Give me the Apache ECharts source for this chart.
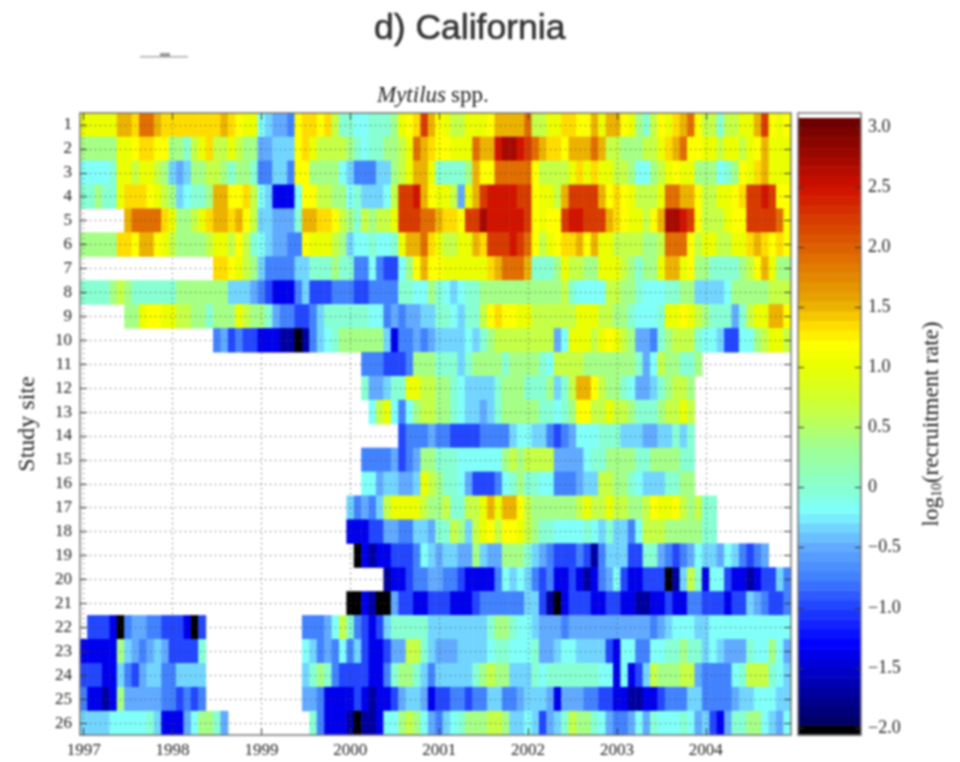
<!DOCTYPE html>
<html><head><meta charset="utf-8">
<style>html,body{margin:0;padding:0;background:#fff}#c{width:960px;height:762px;filter:blur(0.85px)}</style>
<script src="https://cdn.jsdelivr.net/npm/echarts@6/dist/echarts.min.js"></script>
</head><body><div id="c"></div>
<script>
const _ = null;
const yearLabels = ['1997','1998','1999','2000','2001','2002','2003','2004'];
const cbTicks = [-2,-1.5,-1,-.5,0,.5,1,1.5,2,2.5,3];
const site1=[1,1,1,1,1,1.55,1.55,1.35,1.9,1.9,1.55,1.35, 1.35,1.35,1.35,1.35,1.35,1.35,1.35,1.55,1.35,1.2,1,1, -.2,-.35,-.5,-.5,-.75,1.2,1.35,1.35,1.2,1.35,.65,0, 0,-.2,-.2,0,0,0,.35,1,1.2,1.35,2.2,1.55,
 1.2,1,.65,.65,1,1,1,1.2,1.55,1.55,1.55,1.55, 1.9,.65,.65,1,1,1.35,1.35,1.2,1.2,1.55,1,1.55, 1.55,1.2,1,.35,0,.65,1.2,1,1.35,1.55,1.9,1.2, .65,.65,0,.65,.65,1,1,1.55,2.2,1.2,1,1.2];
const site2=[.35,.35,.35,.35,.35,1,1,1.2,1.35,1.35,1.2,1.2, .35,.35,0,.65,1,1.35,.65,.65,1,.65,.35,.35, -.5,-.5,-.35,-.35,-.35,1.2,1.35,1,.65,.65,.65,.65, .35,0,-.2,0,0,.35,.35,.65,1,1.9,1.55,1.35,
 1.2,1.2,1,1,1,1.9,1.55,1.55,2.5,2.75,2.75,2.5, 2.2,1.9,1.55,1.35,1.35,1.2,1.55,1.55,1.55,1.9,1.55,.65, .65,.35,.35,.35,.65,.65,1,1.35,1.55,1.9,1.2,1.2, 1,1,.65,1,1,.65,1,1.2,1.55,1,1,1];
const site3=[-.2,-.2,-.2,-.2,0,1,1,.65,1,1,.65,.35, -.35,-.5,-.35,.35,.35,.65,.65,.35,0,.35,.35,0, -.75,-.75,-.35,-.35,-.75,1.2,1.2,.35,.35,.35,.35,-.2, -.35,-.75,-.75,-.75,-.35,-.35,.35,.65,1,1.55,1.55,1,
 0,0,0,0,.35,1.55,1.2,1.2,1.9,1.9,1.9,1.9, 1.9,1.2,.65,.65,.65,.65,1,1.35,1,1.35,1,1, .65,.65,.35,-.2,-.2,.35,.65,1,1.2,1,1,.35, .35,.35,-.2,0,.35,1.2,1,1.35,1.55,1,1,1];
const site4=[0,0,.35,0,0,1,1.35,1.35,1.35,1.2,1,.65, .35,-.35,-.2,0,0,.35,1.55,1.55,1.2,1.2,1.35,.65, -.2,-.35,-1.35,-1.35,-1.35,-.2,1.2,1.2,.65,.65,.35,.35, -.2,0,-.35,-.35,-.35,-.2,.65,2.2,2.2,2.5,1.55,1.2,
 1,1,.65,-.5,1,1.55,2.2,2.5,2.5,2.5,2.5,2.2, 2.2,1.2,1,1,.65,1.55,2.2,2.2,2.2,2.2,1.55,1.2, 1.35,1.2,1,.65,.65,.65,1,1.9,1.9,1.55,1.55,1.2, .65,.65,1,1,1.2,1.35,2.2,2.2,2.5,2.2,1.2,1.2];
const site5=[_,_,_,_,_,_,1.55,1.9,1.9,1.9,1.9,1.35, 1,.35,.35,.65,1,1.35,1.55,1.55,1.35,1.55,1.2,.65, -.35,-.35,-.5,-.5,-.5,0,1.55,1.55,1.35,1.35,1.2,.65, .35,0,.65,.35,.65,.65,1,2.2,2.2,2.2,1.9,1.9,
 1.55,1.35,1.35,1.2,2.2,2.2,2.75,2.5,2.5,2.5,2.5,2.5, 2.2,1.2,1,1.2,1.2,2.2,2.5,2.5,2.2,2.2,2.2,1.55, 1.35,1.2,1,1,.65,1.2,1.55,2.75,2.75,2.5,2.2,1.2, .65,.65,.65,1,1.2,1.2,2.2,2.2,2.2,2.2,1.9,1.2];
const site6=[.35,.35,.35,.35,.35,1.35,1.35,1.2,1.55,1.55,1.2,1, .65,.35,.35,.35,.35,.65,1,1,.65,1.2,.65,0, -.2,-.35,-.5,-.5,-.75,-.75,1.2,1,1,1,.65,.35, -.35,-.2,-.2,0,-.2,-.2,0,1,1.55,1.55,1.9,1.35,
 1,.65,.65,1,1,1.55,1.35,2.2,2.2,2.2,2.5,2.2, 1.9,1.2,.65,1,1.2,1.35,1.35,1.55,1.2,1.55,1,1, .65,.65,.65,.65,.35,.35,.65,1.9,1.9,1.9,1.2,.65, 1,1,.65,.65,1,1,1.35,1.55,1.35,1.2,1.35,1.2];
const site7=[_,_,_,_,_,_,_,_,_,_,_,_, _,_,_,_,_,_,1.35,1.35,1.2,1,.65,.35, -.35,-.75,-.75,-.75,-.75,-.35,-.35,0,0,0,.35,0, 0,-.75,-.75,-.2,-.75,-1,-1,-.2,.35,1.2,1.55,1.2,
 1.2,1,1,1,1,1,1,1.35,1.55,1.9,1.9,1.9, 1.55,0,0,0,.35,1,.65,.65,.35,.35,1,1, 1,.65,.35,0,.35,.35,1,1.55,1.55,1,1.2,.35, .35,0,0,0,0,.35,.65,1.2,1.55,1,.35,.35];
const site8=[0,0,0,0,.35,.65,.35,0,0,0,0,0, 0,.35,.35,.35,.35,.35,.35,.35,-.35,-.35,-.35,-.5, -.75,-1,-1.35,-1.35,-1.35,-.75,-.35,-1,-1,-1,-.75,-.75, -.75,-1,-1,-.75,-.75,-.75,-.75,0,0,-.2,-.2,.35,
 0,-.2,-.35,-.2,0,0,.35,.35,.35,.35,.35,.35, .35,.35,.35,.35,.35,.65,0,-.2,-.2,-.2,-.2,.65, .65,.35,.35,0,-.2,-.2,-.2,0,0,.35,.35,-.35, -.35,-.35,-.35,-.2,.35,.35,.35,.35,.35,.65,.65,.65];
const site9=[_,_,_,_,_,_,.35,.35,1,1.2,1.2,1, 1,.65,.65,.35,.35,0,.35,.35,.35,1,.65,.35, .35,0,-.5,-.75,-.75,-1,-1,-.75,-.35,0,0,0, 0,0,0,-.2,-.2,-.75,-.5,-.75,-.5,-.5,-.35,-.35,
 0,0,-.2,-.35,0,0,.65,1.2,1.35,1.2,1.2,1, 1,.65,.65,.65,.65,.65,.65,1,1,1,.65,.65, .35,.35,0,-.2,-.2,-.2,0,1,1,1.2,1,.65, .35,0,0,0,-.5,0,.65,1,1,1.55,1.55,1.2];
const site10=[_,_,_,_,_,_,_,_,_,_,_,_, _,_,_,_,_,_,-.75,-.5,-1,-.75,-1,-1, -1.35,-1.35,-1.35,-1.7,-1.7,-2.05,-1.7,-.75,-.35,-.2,0,.35, .35,.35,.35,.35,.35,-.35,-1.35,-.75,-.75,-.5,-.75,-.5,
 -.35,-.35,-.35,-.35,-.2,-.35,0,.35,.65,.65,.65,.65, .65,.65,.65,.65,-.5,-.2,1,1,1,.65,1,1.2, 1,.65,.35,-.5,-.5,-.75,0,.35,.65,.65,.65,0, -.2,-.2,-.35,-1,-1,-.2,-.2,.35,.65,1,1,.65];
const site11=[_,_,_,_,_,_,_,_,_,_,_,_, _,_,_,_,_,_,_,_,_,_,_,_, _,_,_,_,_,_,_,_,_,_,_,_, _,_,-.75,-.75,-.75,-1,-1,-1,-.75,.35,.35,.35,
 0,0,0,-.35,0,.35,.35,.35,.35,0,.35,.35, .35,.35,0,-.2,.65,.65,.65,.65,.35,.35,.35,.35, .35,.35,.35,0,-.5,-.2,.65,.35,.35,0,0,.35, _,_,_,_,_,_,_,_,_,_,_,_];
const site12=[_,_,_,_,_,_,_,_,_,_,_,_, _,_,_,_,_,_,_,_,_,_,_,_, _,_,_,_,_,_,_,_,_,_,_,_, _,_,0,-.5,-.5,-.35,0,0,1,1,.65,.65,
 .35,.35,0,-.2,-.35,-.35,-.35,-.35,0,.35,.35,.35, 0,0,0,.35,-.35,0,.65,1.55,1.55,1.2,.65,.35, .35,0,-.2,-.5,-.5,-.35,0,.35,.65,.65,.35,_, _,_,_,_,_,_,_,_,_,_,_,_];
const site13=[_,_,_,_,_,_,_,_,_,_,_,_, _,_,_,_,_,_,_,_,_,_,_,_, _,_,_,_,_,_,_,_,_,_,_,_, _,_,_,-.2,.65,1,-.2,-.75,-.2,.35,.65,.65,
 .35,.35,0,-.2,-.35,-.35,-.5,-.35,0,.35,.35,.35, .35,.35,0,0,-.2,0,.35,1.2,1.2,.65,.65,1, .65,.65,.35,0,0,0,.35,.65,.65,1,.65,_, _,_,_,_,_,_,_,_,_,_,_,_];
const site14=[_,_,_,_,_,_,_,_,_,_,_,_, _,_,_,_,_,_,_,_,_,_,_,_, _,_,_,_,_,_,_,_,_,_,_,_, _,_,_,_,_,_,_,-1,-.75,-.75,-.75,-.5,
 -.75,-.75,-1,-1,-1,-1,-.75,-.75,-.75,-.75,-.35,-.2, -.2,-.35,-.35,-.75,-1,-.75,-.5,-.2,-.2,-.2,0,0, 0,-.35,-.35,-.35,-.5,-.5,-.35,-.35,0,-.35,0,_, _,_,_,_,_,_,_,_,_,_,_,_];
const site15=[_,_,_,_,_,_,_,_,_,_,_,_, _,_,_,_,_,_,_,_,_,_,_,_, _,_,_,_,_,_,_,_,_,_,_,_, _,_,-.75,-.75,-.75,-.75,-.5,-1,-.75,-.5,.35,.35,
 0,0,0,-.2,-.2,-.2,-.2,-.2,-.2,.35,.65,.35, .65,.65,.65,.65,-.5,-.5,-.5,-.5,-.2,0,0,.35, .35,.35,.35,0,0,.35,.35,.35,.35,0,0,_, _,_,_,_,_,_,_,_,_,_,_,_];
const site16=[_,_,_,_,_,_,_,_,_,_,_,_, _,_,_,_,_,_,_,_,_,_,_,_, _,_,_,_,_,_,_,_,_,_,_,_, _,_,-.2,-.2,-.5,-.35,-.35,-.5,-.5,-.35,1,.65,
 .35,0,0,-.2,-.5,-1,-1,-1,-.75,-.2,0,.35, 0,0,-.2,-.2,-.75,-.75,-.75,-.5,-.35,-.35,.65,.65, .35,.35,0,-.2,-.35,-.35,-.35,0,0,.35,.35,_, _,_,_,_,_,_,_,_,_,_,_,_];
const site17=[_,_,_,_,_,_,_,_,_,_,_,_, _,_,_,_,_,_,_,_,_,_,_,_, _,_,_,_,_,_,_,_,_,_,_,_, -.35,-.75,-.5,-.75,-.35,.65,1,1,1,1,.65,.35,
 .35,.65,0,0,.65,.65,1,1.55,1,1.55,1.55,1.2, .65,.35,.35,.35,.35,.35,.35,.65,1,.65,.65,1, .65,.65,.35,.35,.65,1.2,1,1,1.2,.65,.35,.65, 0,0,_,_,_,_,_,_,_,_,_,_];
const site18=[_,_,_,_,_,_,_,_,_,_,_,_, _,_,_,_,_,_,_,_,_,_,_,_, _,_,_,_,_,_,_,_,_,_,_,_, -1.35,-1.35,-1.35,-1,-1,-.5,-.5,-.75,-.75,-.35,-.35,-.5,
 0,0,.65,.35,-.35,.65,1,1.2,.65,1.2,1.2,1, .65,.35,0,0,-.2,-.2,-.2,-.2,0,-.2,-.35,0, -.35,-.35,-.75,-.2,.65,.65,.65,.35,.35,.35,.35,.35, 0,0,_,_,_,_,_,_,_,_,_,_];
const site19=[_,_,_,_,_,_,_,_,_,_,_,_, _,_,_,_,_,_,_,_,_,_,_,_, _,_,_,_,_,_,_,_,_,_,_,_, _,-2.05,-1.35,-1.7,-1.35,-1.35,-1,-1,-1,-.75,-.2,-.35,
 -.5,-.35,-.35,-.5,-.5,.35,-.35,-.5,-.5,.35,.35,.35, 0,-.35,-.5,-.75,-1,-1,-1,-.75,-1,-1.7,-.75,-.35, -.35,-.35,-1,-1,0,0,-.5,-.75,-1,-.75,-.5,-.2, -.35,-.35,-.5,-.2,-.35,-.75,-1,-.75,-.5,_,_,_];
const site20=[_,_,_,_,_,_,_,_,_,_,_,_, _,_,_,_,_,_,_,_,_,_,_,_, _,_,_,_,_,_,_,_,_,_,_,_, _,_,_,_,_,-1.7,-1.35,-1.35,-1,-.75,-.75,-.5,
 -.5,-.75,-.75,-1,-1.35,-1.35,-1.35,-1.35,-.75,-.2,-.35,-.2, -.35,-.75,-1,-.75,-1.35,-1.35,-1,-1.35,-1.7,-1.35,-.75,-.5, -.2,-1,-1.35,-1.35,-1,-1,-1,-2.05,-1.7,-.35,.65,0, -1.35,-.2,-.2,-1,-1.35,-1.35,-1.7,-1.35,-1,-1,-.35,-.75];
const site21=[_,_,_,_,_,_,_,_,_,_,_,_, _,_,_,_,_,_,_,_,_,_,_,_, _,_,_,_,_,_,_,_,_,_,_,_, -2.05,-2.05,-1.35,-1.7,-2.05,-2.05,-.5,-1,-1,-1.35,-1.35,-1,
 -1,-1,-1.35,-1.35,-1.35,-1,-.75,-.75,-.75,-.75,-.75,-.75, -.35,-.35,-1,-1.7,-2.05,-1.35,-1,-1,-1,-1.35,-1.35,-1, -1,-1.35,-1.35,-1.7,-1.7,-1.35,-1.35,-1,-1.35,-1.35,-.75,-.75, -1,-1,-1,-1.35,-1,-1,-.35,-.5,-.75,-1,-1,-.75];
const site22=[_,-1,-1,-1,-1.35,-2.05,-.75,-.5,-.5,-.75,-.75,-1, -1,-1,-1.35,-2.05,-1,_,_,_,_,_,_,_, _,_,_,_,_,_,-.75,-.75,-.75,-.5,-.2,.65, 0,-.75,-1,-1.35,-1,-.35,0,0,0,0,0,-.35,
 -.35,-.35,-.35,-.35,-.35,-.35,-.35,0,.35,.35,0,-.2, -.2,-.35,-.5,-.5,-.5,-.75,-.5,-.5,-.5,-.5,-.5,-.5, -.5,-.5,-.5,-.5,-.5,-.75,-.5,-.35,-.2,-.2,-.2,-.35, -.35,-.2,-.2,-.2,-.2,-.2,-.2,-.2,-.2,-.2,-.2,-.2];
const site23=[-1.35,-1.35,-1.35,-1.35,-1.35,.35,-.35,-.5,-.75,-.5,-.35,-.5, -1,-1,-1,-1,0,_,_,_,_,_,_,_, _,_,_,_,_,_,-.2,-.35,-.75,-.5,-.75,-.2, -.75,-.35,-1,-1.35,-1.35,-1,-.5,-.5,.65,.65,0,-.35,
 -.5,-.5,-.5,-.35,-.35,-.35,-.35,-.2,0,0,-.2,-.2, -.2,0,-.5,-.5,-.35,-.2,-.2,-.35,-.35,-.35,-.35,-1, -1.35,-.2,-.2,-.75,-.75,-.2,-.2,0,0,.35,0,0, -.35,-.2,-.35,-.5,-.5,-.5,0,-.2,-.2,.35,-.2,-.5];
const site24=[-1,-1,-1,-1.35,-1.35,-.35,-.75,-1,-.5,-.35,-.35,-.75, -.75,-.35,-.35,-.35,-.35,_,_,_,_,_,_,_, _,_,_,_,_,_,-.35,0,.35,0,-.75,-1, -1,-1,-1,-1.35,-1.35,-.75,0,.35,.35,0,-.35,-.75,
 -.35,-.35,-.35,-.35,-.35,0,.35,.65,.35,.35,-.35,-.35, -.35,0,-.2,0,0,0,0,0,0,0,-.2,-.2, -1.35,-.2,-1.35,-1,-.35,.65,.35,.35,.35,.65,.65,-.5, -.75,-.75,-.75,-.75,-.2,0,.65,.65,.65,0,-.2,-.35];
const site25=[-.75,-1.35,-1.35,-1.7,-1.35,.35,-.5,-.5,-.5,-.5,-.5,-.75, -.75,-1,-.75,-1,-.75,_,_,_,_,_,_,_, _,_,_,_,_,_,-.5,-.5,-.75,-1.35,-1.35,-1.35, -1.35,-1,-1.35,-1.7,-1.35,-1.35,-1,-.5,-.35,-.35,-.5,-1.35,
 -1,-1,-.75,-.75,-1,-.75,-.75,-.35,-.35,-.75,-.75,-.5, -.35,-.35,-.35,-.5,-1.35,-.5,-.5,-.5,-.75,-.75,-1,-1, -1.35,-1.35,-1.7,-1.7,-1.35,-1.35,-1,-.75,-.75,-.75,-.35,-.35, -.75,-.75,-.75,-.75,-.5,-.35,-.35,-.2,-.2,-.2,-.35,-.35];
const site26=[-.35,-.35,-.35,-.35,-.2,-.2,-.2,-.2,-.2,0,-.35,-1.35, -1.35,-1.35,-.5,-.2,.35,.35,0,-.5,_,_,_,_, _,_,_,_,_,_,_,0,-.75,-1.35,-1.35,-1.35, -1.7,-2.05,-1.7,-1.7,-1.35,-.2,-.2,.35,.65,.35,-.2,-.5,
 -.75,-.35,-.2,0,.35,.35,.35,.65,.65,.35,-.35,-.35, -.2,-.35,-1,-.5,-.35,0,.65,.35,.35,0,-.2,-.5, -.75,-.75,-.5,-.2,-.5,0,-.2,-.2,-.2,0,-.2,-.5, -.35,-1,-1.35,-.5,0,0,.35,.35,-.2,-.35,-.5,-.2];
const sites=[site1,site2,site3,site4,site5,site6,site7,site8,site9,site10,site11,site12,site13,site14,site15,site16,site17,site18,site19,site20,site21,site22,site23,site24,site25,site26];

const colorStops=[[-2.0,'#000058'],[-1.7,'#0000a0'],[-1.3,'#0000ff'],[-1,'#2040ff'],[-.75,'#4080ff'],[-.5,'#60a8ff'],[-.35,'#70d0ff'],[-.2,'#80ffff'],[0,'#88ffd0'],[.35,'#a0ff90'],[.65,'#c8ff40'],[1,'#e8ff00'],[1.2,'#ffff00'],[1.35,'#ffdc00'],[1.55,'#e8a800'],[1.9,'#e07000'],[2.2,'#d84000'],[2.5,'#d01000'],[2.75,'#a00800'],[3.07,'#680000']];
function hex(c){return [1,3,5].map(i=>parseInt(c.substr(i,2),16))}
function colorAt(v){
  if(v<=colorStops[0][0])return colorStops[0][1];
  for(let i=1;i<colorStops.length;i++){
    if(v<=colorStops[i][0]){
      const a=colorStops[i-1],b=colorStops[i],t=(v-a[0])/(b[0]-a[0]),x=hex(a[1]),y=hex(b[1]);
      return 'rgb('+x.map((q,k)=>Math.round(q+(y[k]-q)*t)).join(',')+')';
    }
  }
  return colorStops[colorStops.length-1][1];
}
const cbMin=-2.058,cbTop=3.075,nBands=64,step=(cbTop-cbMin)/nBands;
const bands=[];
for(let i=0;i<nBands;i++){const lo=cbMin+i*step,hi=lo+step;bands.push([lo,hi,i===0?'#000000':colorAt((lo+hi)/2)]);}

const months=[];for(let i=0;i<96;i++)months.push(String(i));
const siteCats=sites.map((r,i)=>String(i+1));
const heat=[];
sites.forEach((r,y)=>r.forEach((v,x)=>{if(v!==null)heat.push([x,y,v])}));
const yearPos=yearLabels.map((s,i)=>i*12);
const sitePos=sites.map((r,i)=>i+1);

const SERIF='"Liberation Serif",serif',TXT='#222',AX='#777';
const dotted={show:true,lineStyle:{color:'#444',type:[1,4],width:1}};
const tick=(vals,len)=>({show:true,inside:true,length:len,customValues:vals,lineStyle:{color:'#333',width:1}});
const line={show:true,onZero:false,lineStyle:{color:AX,width:1.5}};
const minus=v=>(v===0?'0':(v<0?'\u2212':'')+Math.abs(v).toFixed(1));
const bare={type:'value',gridIndex:1,min:0,max:1,z:5,axisLine:line,axisTick:{show:false},axisLabel:{show:false},splitLine:{show:false}};

const chart=echarts.init(document.getElementById('c'),null,{renderer:'canvas'});
chart.setOption({
  animation:false,backgroundColor:'#fff',
  title:[
    {text:'d) California',left:369,top:6,textStyle:{fontFamily:'"Liberation Sans",sans-serif',fontSize:35.5,fontWeight:'normal',color:'#333',textBorderColor:'#333',textBorderWidth:.6}},
    {text:'{i|Mytilus} {n|spp.}',left:372,top:79,textStyle:{fontWeight:'normal',rich:{i:{fontFamily:SERIF,fontStyle:'italic',fontWeight:'normal',fontSize:23,color:TXT},n:{fontFamily:SERIF,fontWeight:'normal',fontSize:23,color:TXT}}}}
  ],
  grid:[{left:80,top:113,width:711,height:622},{left:798,top:113,width:63,height:622}],
  visualMap:{type:'piecewise',show:false,seriesIndex:0,dimension:2,pieces:bands.map(b=>({min:b[0],max:b[1],color:b[2]}))},
  xAxis:[
    {type:'category',gridIndex:0,data:months,show:false},
    {type:'value',gridIndex:0,position:'bottom',min:-.5,max:95.5,z:5,axisLine:line,axisTick:tick(yearPos,7),
      splitLine:dotted,axisLabel:{show:true,customValues:yearPos,margin:7,formatter:v=>yearLabels[Math.round(v/12)],fontFamily:SERIF,fontSize:17,color:TXT}},
    {type:'value',gridIndex:0,position:'top',min:-.5,max:95.5,z:5,axisLine:line,axisTick:tick(yearPos,7),splitLine:{show:false},axisLabel:{show:false}},
    Object.assign({position:'bottom'},bare),
    Object.assign({position:'top'},bare)
  ],
  yAxis:[
    {type:'category',gridIndex:0,data:siteCats,inverse:true,show:false},
    {type:'value',gridIndex:0,position:'left',inverse:true,min:.5,max:26.5,z:5,axisLine:line,axisTick:tick(sitePos,7),splitLine:dotted,
      axisLabel:{show:true,customValues:sitePos,margin:8,formatter:v=>String(Math.round(v)),fontFamily:SERIF,fontSize:17,color:TXT},
      name:'Study site',nameLocation:'middle',nameRotate:90,nameGap:40,nameTextStyle:{fontFamily:SERIF,fontSize:24,color:TXT}},
    {type:'value',gridIndex:0,position:'right',inverse:true,min:.5,max:26.5,z:5,axisLine:line,axisTick:tick(sitePos,7),splitLine:{show:false},axisLabel:{show:false}},
    {type:'value',gridIndex:1,position:'left',min:cbMin,max:3.116,z:5,axisLine:line,axisTick:tick(cbTicks,6),splitLine:{show:false},axisLabel:{show:false}},
    {type:'value',gridIndex:1,position:'right',min:cbMin,max:3.116,z:5,axisLine:line,axisTick:tick(cbTicks,6),splitLine:{show:false},
      axisLabel:{show:true,customValues:cbTicks,margin:7,formatter:minus,fontFamily:SERIF,fontSize:18,color:TXT},
      name:'{a|log}{s|10}{a|(recruitment rate)}',nameLocation:'middle',nameRotate:90,nameGap:59,
      nameTextStyle:{rich:{a:{fontFamily:SERIF,fontSize:23,color:TXT},s:{fontFamily:SERIF,fontSize:14,color:TXT,verticalAlign:'bottom',padding:[10,0,0,0]}}}}
  ],
  graphic:[
    {type:'rect',left:140,top:56,shape:{width:48,height:1.5},style:{fill:'#aaa'},silent:true},
    {type:'rect',left:160,top:53,shape:{width:10,height:4},style:{fill:'#999'},silent:true}
  ],
  series:[
    {type:'heatmap',xAxisIndex:0,yAxisIndex:0,data:heat,silent:true,z:2,progressive:0,itemStyle:{borderWidth:0}},
    {type:'custom',xAxisIndex:3,yAxisIndex:3,silent:true,z:2,data:bands.map(b=>[b[0],b[1]]),
      encode:{y:[0,1]},
      renderItem:(p,api)=>{
        const a=api.coord([0,api.value(1)]),b=api.coord([1,api.value(0)]);
        return {type:'rect',shape:{x:a[0],y:a[1],width:b[0]-a[0],height:b[1]-a[1]+.5},style:{fill:bands[p.dataIndex][2]}};
      }}
  ]
});
</script></body></html>
